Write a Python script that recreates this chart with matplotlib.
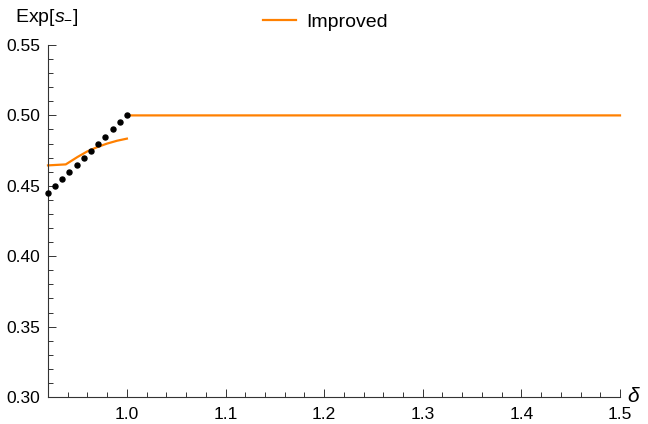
import numpy as np
import matplotlib.pyplot as plt

plt.rcParams['font.family'] = ['Liberation Sans', 'DejaVu Sans']
plt.rcParams['mathtext.fontset'] = 'custom'
plt.rcParams['mathtext.rm'] = 'Liberation Sans'
plt.rcParams['mathtext.it'] = 'Liberation Sans:italic'

# dotted reference curve (black points)
dot_delta = [0.92, 0.9273, 0.9345, 0.9418, 0.9491, 0.9564, 0.9636, 0.9709, 0.9782, 0.9855, 0.9927, 1.0]
dot_exp = [0.445, 0.450, 0.455, 0.4597, 0.465, 0.4697, 0.475, 0.4797, 0.485, 0.490, 0.495, 0.500]

# "Improved" curve, two pieces with a jump at delta = 1
imp_delta_a = [0.92, 0.938, 0.95, 0.96, 0.97, 0.98, 0.99, 1.0]
imp_exp_a = [0.4645, 0.4652, 0.4705, 0.4745, 0.4775, 0.480, 0.482, 0.4835]
imp_delta_b = [1.0, 1.5]
imp_exp_b = [0.5, 0.5]

xticks = [1.0, 1.1, 1.2, 1.3, 1.4, 1.5]
yticks = [0.30, 0.35, 0.40, 0.45, 0.50, 0.55]

orange = '#ff8000'
axis_col = '#333333'

fig = plt.figure(figsize=(6.48, 4.24), dpi=100)
ax = fig.add_axes([48 / 648, 27 / 424, 572 / 648, 352 / 424])

x_line = imp_delta_a + [np.nan] + imp_delta_b
y_line = imp_exp_a + [np.nan] + imp_exp_b
ax.plot(x_line, y_line, color=orange, lw=1.6, label='Improved', clip_on=False)
ax.plot(dot_delta, dot_exp, 'o', color='black', ms=3.6, clip_on=False, zorder=3)

ax.set_xlim(0.92, 1.5)
ax.set_ylim(0.30, 0.55)
ax.set_xticks(xticks)
ax.set_xticklabels(['%.1f' % v for v in xticks])
ax.set_yticks(yticks)
ax.set_yticklabels(['%.2f' % v for v in yticks])
ax.set_xticks(np.arange(0.92, 1.5001, 0.02), minor=True)
ax.set_yticks(np.arange(0.30, 0.5501, 0.01), minor=True)

for s in ['top', 'right']:
    ax.spines[s].set_visible(False)
for s in ['left', 'bottom']:
    ax.spines[s].set_color(axis_col)
    ax.spines[s].set_linewidth(0.8)

ax.tick_params(which='both', direction='in', color=axis_col, labelsize=12.5, width=0.7)
ax.tick_params(which='major', length=6)
ax.tick_params(which='minor', length=3.5)
ax.tick_params(axis='x', which='major', pad=7)
ax.tick_params(axis='y', which='major', pad=5.5)

ax.text(1.012, 0.0, r'$\delta$', transform=ax.transAxes, fontsize=15, va='center', ha='left')
fig.text(15 / 648, 1 - 18 / 424, r'Exp[$s_{-}$]', fontsize=14, va='center', ha='left')

fig.legend(loc='center', bbox_to_anchor=(0.502, 0.948), frameon=False, fontsize=14,
           handlelength=1.7, handletextpad=0.55)

fig.savefig('out.png', dpi=100)
